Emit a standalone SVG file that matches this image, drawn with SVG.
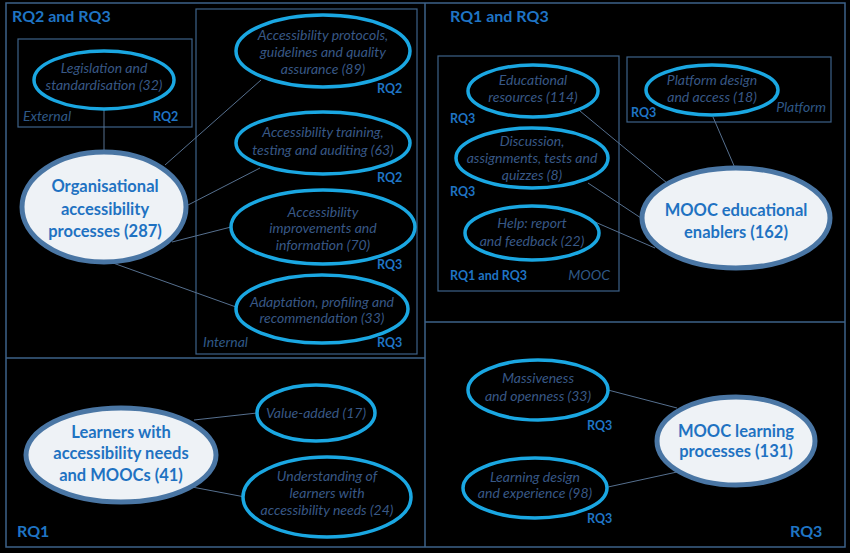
<svg xmlns="http://www.w3.org/2000/svg" width="850" height="553" viewBox="0 0 850 553">
<style>
.frame{fill:none;stroke:#3d6289;stroke-width:1.5}
.box{fill:none;stroke:#3d6289;stroke-width:1.2}
.sub{fill:#000;stroke:#1aa7e2;stroke-width:3.5}
.main{fill:#eef2f6;stroke:#4a76a4;stroke-width:5}
.conn line{stroke:#56708f;stroke-width:1}
.it{font-family:Lato,"Liberation Sans",sans-serif;font-style:italic;font-size:14px;fill:#385886;text-anchor:middle}
.bd{font-family:Lato,"Liberation Sans",sans-serif;font-weight:bold;font-size:16.5px;fill:#1f72c2;text-anchor:middle}
.rq{font-family:Lato,"Liberation Sans",sans-serif;font-weight:bold;font-size:12.5px;fill:#1f74c4}
.hd{font-family:Lato,"Liberation Sans",sans-serif;font-weight:bold;font-size:16px;fill:#1f74c4}
.lab{font-family:Lato,"Liberation Sans",sans-serif;font-style:italic;font-size:14px;fill:#2f5886}
</style>
<rect width="850" height="553" fill="#000"/>
<g id="frames">
<rect class="frame" x="6" y="3" width="839" height="544"/>
<line class="frame" x1="425" y1="3" x2="425" y2="547"/>
<line class="frame" x1="6" y1="358" x2="425" y2="358"/>
<line class="frame" x1="425" y1="322" x2="845" y2="322"/>
<rect class="box" x="18" y="39" width="174" height="88"/>
<rect class="box" x="196" y="9" width="221" height="345"/>
<rect class="box" x="438" y="56" width="181" height="235"/>
<rect class="box" x="627" y="57" width="204" height="65"/>
<text class="hd" x="12" y="22">RQ2 and RQ3</text>
<text class="hd" x="450" y="22">RQ1 and RQ3</text>
<text class="hd" x="17" y="537">RQ1</text>
<text class="hd" x="790" y="537">RQ3</text>
<text class="lab" x="23" y="121">External</text>
<text class="lab" x="203" y="347">Internal</text>
<text class="lab" x="826" y="112" text-anchor="end">Platform</text>
<text class="lab" x="610" y="280" text-anchor="end">MOOC</text>
<text class="rq" x="153" y="121">RQ2</text>
<text class="rq" x="377" y="93">RQ2</text>
<text class="rq" x="377" y="182">RQ2</text>
<text class="rq" x="377" y="269">RQ3</text>
<text class="rq" x="377" y="347">RQ3</text>
<text class="rq" x="450" y="123">RQ3</text>
<text class="rq" x="631" y="117">RQ3</text>
<text class="rq" x="450" y="196">RQ3</text>
<text class="rq" x="450" y="280">RQ1 and RQ3</text>
<text class="rq" x="587" y="430">RQ3</text>
<text class="rq" x="587" y="523">RQ3</text>
</g>
<g id="connectors" class="conn">
<line x1="104" y1="110" x2="104" y2="153"/>
<line x1="165" y1="165" x2="261" y2="80"/>
<line x1="188" y1="205" x2="260" y2="168"/>
<line x1="172" y1="242" x2="231" y2="227"/>
<line x1="113" y1="263" x2="236" y2="307"/>
<line x1="194" y1="420" x2="257" y2="413"/>
<line x1="192" y1="487" x2="245" y2="497"/>
<line x1="580" y1="111" x2="667" y2="183"/>
<line x1="588" y1="183" x2="644" y2="220"/>
<line x1="595" y1="222" x2="655" y2="248"/>
<line x1="713" y1="117" x2="735" y2="168"/>
<line x1="608" y1="390" x2="677" y2="408"/>
<line x1="608" y1="487" x2="677" y2="472"/>
</g>
<g id="legislation"><ellipse class="sub" cx="104" cy="80" rx="70" ry="29"/><text class="it" x="104" y="73">Legislation and</text><text class="it" x="104" y="90">standardisation (32)</text></g>
<g id="protocols"><ellipse class="sub" cx="323" cy="51" rx="87" ry="36"/><text class="it" x="323" y="40">Accessibility protocols,</text><text class="it" x="323" y="57">guidelines and quality</text><text class="it" x="323" y="74">assurance (89)</text></g>
<g id="training"><ellipse class="sub" cx="323" cy="143" rx="87" ry="31"/><text class="it" x="323" y="137">Accessibility training,</text><text class="it" x="323" y="155">testing and auditing (63)</text></g>
<g id="improvements"><ellipse class="sub" cx="323" cy="227" rx="92" ry="37"/><text class="it" x="323" y="217">Accessibility</text><text class="it" x="323" y="233">improvements and</text><text class="it" x="323" y="250">information (70)</text></g>
<g id="adaptation"><ellipse class="sub" cx="322" cy="309" rx="86" ry="34"/><text class="it" x="322" y="307">Adaptation, profiling and</text><text class="it" x="322" y="323">recommendation (33)</text></g>
<g id="organisational"><ellipse class="main" cx="104" cy="207" rx="82" ry="55"/><text class="bd" x="105" y="192">Organisational</text><text class="bd" x="105" y="215">accessibility</text><text class="bd" x="105" y="237">processes (287)</text></g>
<g id="learners"><ellipse class="main" cx="121" cy="455" rx="95" ry="47"/><text class="bd" x="121" y="438">Learners with</text><text class="bd" x="121" y="459">accessibility  needs</text><text class="bd" x="121" y="481">and MOOCs (41)</text></g>
<g id="valueadded"><ellipse class="sub" cx="316" cy="413" rx="59" ry="28"/><text class="it" x="316" y="418">Value-added (17)</text></g>
<g id="understanding"><ellipse class="sub" cx="327" cy="497" rx="84" ry="40"/><text class="it" x="327" y="481">Understanding of</text><text class="it" x="327" y="498">learners with</text><text class="it" x="327" y="515">accessibility needs (24)</text></g>
<g id="educational"><ellipse class="sub" cx="533" cy="91" rx="65" ry="26"/><text class="it" x="533" y="85">Educational</text><text class="it" x="533" y="102">resources (114)</text></g>
<g id="platform"><ellipse class="sub" cx="712" cy="90" rx="66" ry="25"/><text class="it" x="712" y="85">Platform design</text><text class="it" x="712" y="102">and access (18)</text></g>
<g id="discussion"><ellipse class="sub" cx="532" cy="158" rx="76" ry="30"/><text class="it" x="532" y="146">Discussion,</text><text class="it" x="532" y="163">assignments, tests and</text><text class="it" x="532" y="180">quizzes  (8)</text></g>
<g id="help"><ellipse class="sub" cx="532" cy="233" rx="67" ry="27"/><text class="it" x="532" y="228">Help: report</text><text class="it" x="532" y="246">and feedback (22)</text></g>
<g id="enablers"><ellipse class="main" cx="736" cy="218" rx="94" ry="50"/><text class="bd" x="736" y="216">MOOC educational</text><text class="bd" x="736" y="238">enablers (162)</text></g>
<g id="massiveness"><ellipse class="sub" cx="538" cy="390" rx="70" ry="30"/><text class="it" x="538" y="383">Massiveness</text><text class="it" x="538" y="401">and openness (33)</text></g>
<g id="learningdesign"><ellipse class="sub" cx="535" cy="488" rx="72" ry="30"/><text class="it" x="535" y="482">Learning design</text><text class="it" x="535" y="498">and experience (98)</text></g>
<g id="learning"><ellipse class="main" cx="736" cy="441" rx="79" ry="44"/><text class="bd" x="736" y="437">MOOC learning</text><text class="bd" x="736" y="457">processes (131)</text></g>
</svg>
